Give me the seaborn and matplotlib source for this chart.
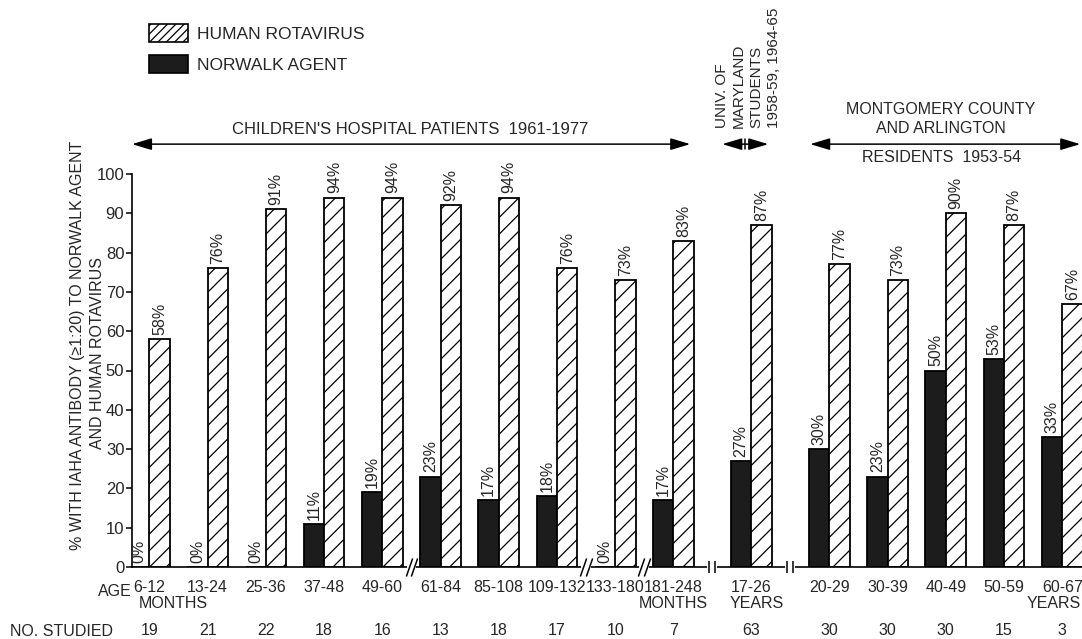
import matplotlib
matplotlib.use("Agg")
import matplotlib.pyplot as plt
from matplotlib.patches import Patch
from matplotlib.path import Path
import numpy as np
import pandas as pd
import seaborn as sns

# Age groups, antibody prevalence (%) and number of sera studied
groups = ["6-12", "13-24", "25-36", "37-48", "49-60", "61-84", "85-108",
          "109-132", "133-180", "181-248", "17-26", "20-29", "30-39",
          "40-49", "50-59", "60-67"]
norwalk = [0, 0, 0, 11, 19, 23, 17, 18, 0, 17, 27, 30, 23, 50, 53, 33]
rotavirus = [58, 76, 91, 94, 94, 92, 94, 76, 73, 83, 87, 77, 73, 90, 87, 67]
n_studied = [19, 21, 22, 18, 16, 13, 18, 17, 10, 7, 63, 30, 30, 30, 15, 3]
series_names = ["NORWALK AGENT", "HUMAN ROTAVIRUS"]

# group positions, with extra room at the two population breaks
BREAK_GAP = 0.34
pos = np.arange(len(groups), dtype=float)
pos[10:] += BREAK_GAP
pos[11:] += BREAK_GAP

df = pd.DataFrame({
    "pos": np.concatenate([pos, pos]),
    "agent": [series_names[0]] * len(groups) + [series_names[1]] * len(groups),
    "value": norwalk + rotavirus,
})

sns.set_style("ticks")
plt.rcParams["font.family"] = ["Liberation Sans", "DejaVu Sans"]
plt.rcParams["hatch.linewidth"] = 0.9

FS = 11.5
fig = plt.figure(figsize=(10.82, 6.39), dpi=100)
ax = fig.add_axes([132 / 1082, 72 / 639, 950 / 1082, 393 / 639])

sns.barplot(data=df, x="pos", y="value", hue="agent", hue_order=series_names,
            native_scale=True, palette={series_names[0]: "#1c1c1c",
                                        series_names[1]: "white"},
            saturation=1, width=0.7, gap=0, edgecolor="black", linewidth=1.3,
            errorbar=None, legend=False, ax=ax)

for bar in ax.containers[1]:
    bar.set_hatch("//")

for cont, vals in zip(ax.containers, [norwalk, rotavirus]):
    ax.bar_label(cont, labels=[f"{v}%" for v in vals], rotation=90,
                 padding=3, fontsize=11.5)

ax.set_xlim(-0.30, 16.02)
ax.set_ylim(0, 100)
ax.set_yticks(range(0, 101, 10))
ax.set_xticks(pos, groups)
ax.set_xlabel("")
ax.set_ylabel("")
ax.tick_params(axis="x", length=0, pad=9, labelsize=FS)
ax.tick_params(axis="y", length=4, width=1.1, pad=1.5, labelsize=12,
               direction="out", color="black")
sns.despine(ax=ax)
for s in ("left", "bottom"):
    ax.spines[s].set_linewidth(1.2)
    ax.spines[s].set_color("black")

# scale breaks on the age axis
slash = Path([(-0.35, -1.0), (0.35, 1.0)])
vbar = Path([(0.0, -1.0), (0.0, 1.0)])
for a, b, mk, ms in [(4, 5, slash, 13), (7, 8, slash, 13), (8, 9, slash, 13),
                     (9, 10, vbar, 9), (10, 11, vbar, 9)]:
    xb = (pos[a] + pos[b]) / 2
    ax.plot([xb - 0.05, xb + 0.05], [0, 0], color="white", lw=3,
            clip_on=False, zorder=4)
    ax.plot([xb - 0.05, xb + 0.05], [0, 0], linestyle="none", marker=mk,
            markersize=ms, markeredgecolor="black", markeredgewidth=1.1,
            clip_on=False, zorder=5)

trans = ax.get_xaxis_transform()
arrow = dict(arrowstyle="<|-|>,head_length=0.6,head_width=0.18",
             color="black", lw=1.1, shrinkA=0, shrinkB=0, mutation_scale=20)

# population headings
ax.annotate("", xy=(-0.30, 1.076), xytext=(9.29, 1.076), xycoords=trans,
            textcoords=trans, arrowprops=arrow, annotation_clip=False)
ax.text(4.48, 1.112, "CHILDREN'S HOSPITAL PATIENTS  1961-1977",
        transform=trans, ha="center", va="center", fontsize=12)

ax.annotate("", xy=(9.84, 1.076), xytext=(10.63, 1.076), xycoords=trans,
            textcoords=trans, arrowprops=arrow, annotation_clip=False)
ax.plot([10.23, 10.23], [1.064, 1.088], color="black", lw=1.1,
        transform=trans, clip_on=False)
ax.text(10.28, 1.117, "UNIV. OF\nMARYLAND\nSTUDENTS\n1958-59, 1964-65",
        transform=trans, rotation=90, ha="center", va="bottom",
        multialignment="left", linespacing=1.3, fontsize=11)

ax.annotate("", xy=(11.35, 1.076), xytext=(15.99, 1.076), xycoords=trans,
            textcoords=trans, arrowprops=arrow, annotation_clip=False)
ax.text(13.6, 1.165, "MONTGOMERY COUNTY", transform=trans,
        ha="center", va="center", fontsize=FS)
ax.text(13.6, 1.115, "AND ARLINGTON", transform=trans,
        ha="center", va="center", fontsize=FS)
ax.text(13.6, 1.043, "RESIDENTS  1953-54", transform=trans,
        ha="center", va="center", fontsize=FS)

# age units and sample sizes under the axis
ax.text(pos[0] - 0.19, -0.092, "MONTHS", transform=trans, ha="left",
        va="center", fontsize=FS)
ax.text(pos[9], -0.092, "MONTHS", transform=trans, ha="center",
        va="center", fontsize=FS)
ax.text(pos[10] + 0.1, -0.092, "YEARS", transform=trans, ha="center",
        va="center", fontsize=FS)
ax.text(pos[15] + 0.32, -0.092, "YEARS", transform=trans, ha="right",
        va="center", fontsize=FS)
for p, n in zip(pos, n_studied):
    ax.text(p, -0.162, str(n), transform=trans, ha="center", va="center",
            fontsize=FS)

fig.text(115 / 1082, 1 - 591 / 639, "AGE", ha="center", va="center",
         fontsize=FS)
fig.text(10 / 1082, 1 - 631 / 639, "NO. STUDIED", ha="left", va="center",
         fontsize=FS)

# two-line y axis title
fig.text(78 / 1082, 1 - 345 / 639,
         "% WITH IAHA ANTIBODY (\u22651:20) TO NORWALK AGENT",
         rotation=90, ha="center", va="center", fontsize=FS)
fig.text(97 / 1082, 1 - 353 / 639, "AND HUMAN ROTAVIRUS",
         rotation=90, ha="center", va="center", fontsize=FS)

handles = [Patch(facecolor="white", edgecolor="black", hatch="////",
                 linewidth=1.2, label="HUMAN ROTAVIRUS"),
           Patch(facecolor="#1c1c1c", edgecolor="black", linewidth=1.2,
                 label="NORWALK AGENT")]
fig.legend(handles=handles, loc="upper left",
           bbox_to_anchor=(149 / 1082, 1 - 24 / 639), frameon=False,
           borderpad=0, borderaxespad=0, handlelength=2.25, handleheight=1.2,
           handletextpad=0.5, labelspacing=0.75, fontsize=12.5)

fig.savefig("out.png", dpi=100)
